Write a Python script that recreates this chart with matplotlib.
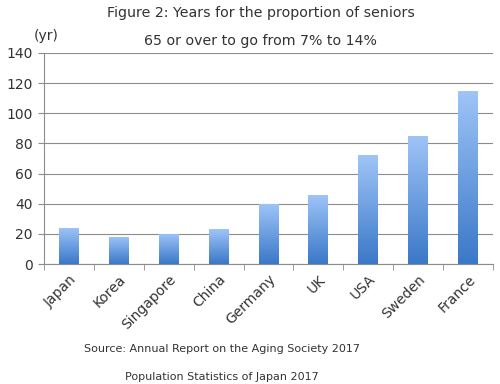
import matplotlib.pyplot as plt
import numpy as np
from matplotlib.colors import LinearSegmentedColormap

countries = ["Japan", "Korea", "Singapore", "China", "Germany", "UK", "USA", "Sweden", "France"]
years = [24, 18, 20, 23, 40, 46, 72, 85, 115]
yticks = [0, 20, 40, 60, 80, 100, 120, 140]

plt.rcParams['font.family'] = ['DejaVu Sans']
txt = "#333333"

fig = plt.figure(figsize=(5, 3.84), dpi=100)
ax = fig.add_axes([0.088, 0.3125, 0.898, 0.5495])

x = np.arange(len(countries))
bars = ax.bar(x, years, width=0.4, color="none", edgecolor="none", zorder=3)

# vertical gradient inside each bar
cmap = LinearSegmentedColormap.from_list("bl", ["#3a78c8", "#9fc5f8"])
grad = np.linspace(0, 1, 256).reshape(-1, 1)
for b in bars:
    x0, w, h = b.get_x(), b.get_width(), b.get_height()
    im = ax.imshow(grad, cmap=cmap, origin="lower", aspect="auto",
                   extent=[x0, x0 + w, 0, h], zorder=3)
    im.set_clip_path(b)

ax.set_xlim(-0.5, len(countries) - 0.5)
ax.set_ylim(0, 140)
ax.set_yticks(yticks)
ax.yaxis.grid(True, color="#8c8c8c", linewidth=0.8)
ax.set_axisbelow(True)

ax.set_xticks(x)
ax.set_xticklabels(countries, rotation=45, ha="right", rotation_mode="anchor",
                   fontsize=10, color=txt)
ax.set_xticks(np.arange(-0.5, len(countries), 1), minor=True)
ax.tick_params(axis="x", which="major", length=0, pad=6)
ax.tick_params(axis="x", which="minor", length=4, color="#8c8c8c", direction="out")
ax.tick_params(axis="y", length=4, color="#8c8c8c", labelsize=10, labelcolor=txt, pad=4)

for s in ["top", "right"]:
    ax.spines[s].set_visible(False)
ax.spines["left"].set_color("#8c8c8c")
ax.spines["bottom"].set_color("#8c8c8c")

fig.text(0.521, 0.965, "Figure 2: Years for the proportion of seniors",
         ha="center", va="center", fontsize=10.2, color=txt)
fig.text(0.521, 0.893, "65 or over to go from 7% to 14%",
         ha="center", va="center", fontsize=10.2, color=txt)
fig.text(0.068, 0.905, "(yr)", ha="left", va="center", fontsize=10, color=txt)
fig.text(0.443, 0.092, "Source: Annual Report on the Aging Society 2017",
         ha="center", va="center", fontsize=8, color=txt)
fig.text(0.443, 0.018, "Population Statistics of Japan 2017",
         ha="center", va="center", fontsize=8, color=txt)

fig.savefig("out.png", dpi=100)
